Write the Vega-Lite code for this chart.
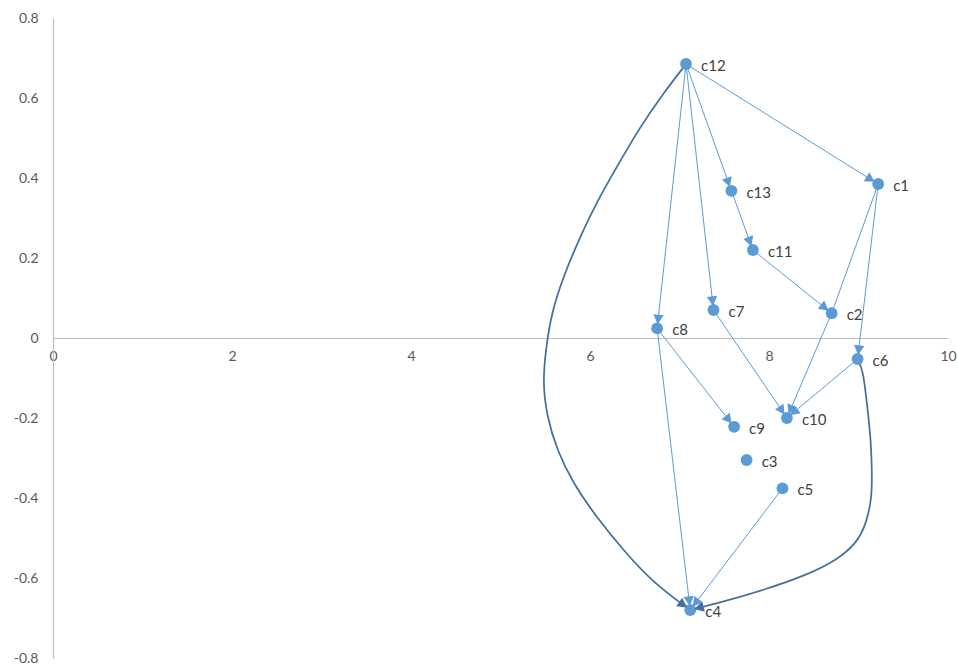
{
  "$schema": "https://vega.github.io/schema/vega-lite/v6.json",
  "width": 895,
  "height": 640,
  "autosize": "none",
  "padding": {"left": 53, "top": 18, "right": 10, "bottom": 9},
  "background": "white",
  "config": {"view": {"stroke": null}, "font": "Lato"},
  "datasets": {
    "nodes": [
      {"name": "c12", "x": 7.073, "y": 0.685},
      {"name": "c1", "x": 9.22, "y": 0.385},
      {"name": "c13", "x": 7.58, "y": 0.368},
      {"name": "c11", "x": 7.82, "y": 0.22},
      {"name": "c2", "x": 8.70, "y": 0.062},
      {"name": "c7", "x": 7.38, "y": 0.07},
      {"name": "c8", "x": 6.75, "y": 0.024},
      {"name": "c6", "x": 8.99, "y": -0.0525},
      {"name": "c10", "x": 8.20, "y": -0.20},
      {"name": "c9", "x": 7.61, "y": -0.222},
      {"name": "c3", "x": 7.75, "y": -0.305},
      {"name": "c5", "x": 8.15, "y": -0.376},
      {"name": "c4", "x": 7.12, "y": -0.68}
    ],
    "edges": [
      {"from": "c12", "to": "c1", "x": 7.073, "y": 0.685, "xe": 9.22, "ye": 0.385},
      {"from": "c12", "to": "c13", "x": 7.073, "y": 0.685, "xe": 7.58, "ye": 0.368},
      {"from": "c12", "to": "c7", "x": 7.073, "y": 0.685, "xe": 7.38, "ye": 0.07},
      {"from": "c12", "to": "c8", "x": 7.073, "y": 0.685, "xe": 6.75, "ye": 0.024},
      {"from": "c13", "to": "c11", "x": 7.58, "y": 0.368, "xe": 7.82, "ye": 0.22},
      {"from": "c11", "to": "c2", "x": 7.82, "y": 0.22, "xe": 8.70, "ye": 0.062},
      {"from": "c1", "to": "c2", "x": 9.22, "y": 0.385, "xe": 8.70, "ye": 0.062},
      {"from": "c1", "to": "c6", "x": 9.22, "y": 0.385, "xe": 8.99, "ye": -0.0525},
      {"from": "c2", "to": "c10", "x": 8.70, "y": 0.062, "xe": 8.20, "ye": -0.20},
      {"from": "c7", "to": "c10", "x": 7.38, "y": 0.07, "xe": 8.20, "ye": -0.20},
      {"from": "c6", "to": "c10", "x": 8.99, "y": -0.0525, "xe": 8.20, "ye": -0.20},
      {"from": "c8", "to": "c9", "x": 6.75, "y": 0.024, "xe": 7.61, "ye": -0.222},
      {"from": "c8", "to": "c4", "x": 6.75, "y": 0.024, "xe": 7.12, "ye": -0.68},
      {"from": "c5", "to": "c4", "x": 8.15, "y": -0.376, "xe": 7.12, "ye": -0.68}
    ],
    "heads": [
      {"from": "c12", "to": "c1", "kind": "light", "fx": 7.073, "fy": 0.685, "x": 9.22, "y": 0.385},
      {"from": "c12", "to": "c13", "kind": "light", "fx": 7.073, "fy": 0.685, "x": 7.58, "y": 0.368},
      {"from": "c12", "to": "c7", "kind": "light", "fx": 7.073, "fy": 0.685, "x": 7.38, "y": 0.07},
      {"from": "c12", "to": "c8", "kind": "light", "fx": 7.073, "fy": 0.685, "x": 6.75, "y": 0.024},
      {"from": "c13", "to": "c11", "kind": "light", "fx": 7.58, "fy": 0.368, "x": 7.82, "y": 0.22},
      {"from": "c11", "to": "c2", "kind": "light", "fx": 7.82, "fy": 0.22, "x": 8.70, "y": 0.062},
      {"from": "c1", "to": "c6", "kind": "light", "fx": 9.22, "fy": 0.385, "x": 8.99, "y": -0.0525},
      {"from": "c2", "to": "c10", "kind": "light", "fx": 8.70, "fy": 0.062, "x": 8.20, "y": -0.20},
      {"from": "c7", "to": "c10", "kind": "light", "fx": 7.38, "fy": 0.07, "x": 8.20, "y": -0.20},
      {"from": "c6", "to": "c10", "kind": "light", "fx": 8.99, "fy": -0.0525, "x": 8.20, "y": -0.20},
      {"from": "c8", "to": "c9", "kind": "light", "fx": 6.75, "fy": 0.024, "x": 7.61, "y": -0.222},
      {"from": "c8", "to": "c4", "kind": "light", "fx": 6.75, "fy": 0.024, "x": 7.12, "y": -0.68},
      {"from": "c5", "to": "c4", "kind": "light", "fx": 8.15, "fy": -0.376, "x": 7.12, "y": -0.68},
      {"from": "c12", "to": "c4", "kind": "dark", "fx": 6.71, "fy": -0.613, "x": 7.12, "y": -0.68},
      {"from": "c6", "to": "c4", "kind": "dark", "fx": 7.49, "fy": -0.659, "x": 7.12, "y": -0.68}
    ],
    "curves": [
      {"curve": "c12-c4", "step": 0, "x": 7.073, "y": 0.685},
      {"curve": "c12-c4", "step": 1, "x": 6.82, "y": 0.612},
      {"curve": "c12-c4", "step": 2, "x": 6.56, "y": 0.528},
      {"curve": "c12-c4", "step": 3, "x": 6.30, "y": 0.428},
      {"curve": "c12-c4", "step": 4, "x": 6.07, "y": 0.3375},
      {"curve": "c12-c4", "step": 5, "x": 5.89, "y": 0.253},
      {"curve": "c12-c4", "step": 6, "x": 5.70, "y": 0.153},
      {"curve": "c12-c4", "step": 7, "x": 5.57, "y": 0.062},
      {"curve": "c12-c4", "step": 8, "x": 5.51, "y": -0.022},
      {"curve": "c12-c4", "step": 9, "x": 5.47, "y": -0.1125},
      {"curve": "c12-c4", "step": 10, "x": 5.52, "y": -0.197},
      {"curve": "c12-c4", "step": 11, "x": 5.63, "y": -0.28},
      {"curve": "c12-c4", "step": 12, "x": 5.81, "y": -0.363},
      {"curve": "c12-c4", "step": 13, "x": 6.07, "y": -0.447},
      {"curve": "c12-c4", "step": 14, "x": 6.37, "y": -0.53},
      {"curve": "c12-c4", "step": 15, "x": 6.71, "y": -0.613},
      {"curve": "c12-c4", "step": 16, "x": 7.12, "y": -0.68},
      {"curve": "c6-c4", "step": 0, "x": 8.99, "y": -0.0525},
      {"curve": "c6-c4", "step": 1, "x": 9.05, "y": -0.08},
      {"curve": "c6-c4", "step": 2, "x": 9.09, "y": -0.155},
      {"curve": "c6-c4", "step": 3, "x": 9.14, "y": -0.255},
      {"curve": "c6-c4", "step": 4, "x": 9.15, "y": -0.338},
      {"curve": "c6-c4", "step": 5, "x": 9.15, "y": -0.397},
      {"curve": "c6-c4", "step": 6, "x": 9.09, "y": -0.463},
      {"curve": "c6-c4", "step": 7, "x": 8.98, "y": -0.513},
      {"curve": "c6-c4", "step": 8, "x": 8.76, "y": -0.555},
      {"curve": "c6-c4", "step": 9, "x": 8.42, "y": -0.593},
      {"curve": "c6-c4", "step": 10, "x": 7.94, "y": -0.63},
      {"curve": "c6-c4", "step": 11, "x": 7.49, "y": -0.659},
      {"curve": "c6-c4", "step": 12, "x": 7.12, "y": -0.68}
    ]
  },
  "encoding": {
    "x": {
      "field": "x", "type": "quantitative",
      "scale": {"domain": [0, 10], "nice": false, "zero": false},
      "axis": {
        "title": null, "orient": "bottom", "offset": -320,
        "values": [0, 2, 4, 6, 8, 10],
        "grid": false, "ticks": false,
        "domainColor": "#bfbfbf", "domainWidth": 1.2,
        "labelFont": "Lato", "labelFontSize": 14, "labelColor": "#595959",
        "labelPadding": 11, "labelFlush": false, "labelOverlap": false, "labelBound": false
      }
    },
    "y": {
      "field": "y", "type": "quantitative",
      "scale": {"domain": [-0.8, 0.8], "nice": false, "zero": false},
      "axis": {
        "title": null, "orient": "left",
        "values": [-0.8, -0.6, -0.4, -0.2, 0, 0.2, 0.4, 0.6, 0.8],
        "labelExpr": "datum.value == 0 ? '0' : toString(round(datum.value * 10) / 10)",
        "grid": false, "ticks": false,
        "domainColor": "#bfbfbf", "domainWidth": 1.2,
        "labelFont": "Lato", "labelFontSize": 14, "labelColor": "#595959",
        "labelPadding": 15, "labelFlush": false, "labelOverlap": false, "labelBound": false
      }
    }
  },
  "layer": [
    {
      "data": {"name": "edges"},
      "mark": {"type": "rule", "color": "#5b9bd5", "strokeWidth": 1},
      "encoding": {
        "x2": {"field": "xe"},
        "y2": {"field": "ye"}
      }
    },
    {
      "data": {"name": "curves"},
      "mark": {"type": "line", "interpolate": "basis", "color": "#41719c", "strokeWidth": 1.75},
      "encoding": {
        "detail": {"field": "curve"},
        "order": {"field": "step", "type": "quantitative"}
      }
    },
    {
      "data": {"name": "nodes"},
      "mark": {"type": "circle", "size": 140, "color": "#5b9bd5", "opacity": 1},
      "encoding": {}
    },
    {
      "data": {"name": "heads"},
      "transform": [
        {"calculate": "(atan2((datum.x - datum.fx) * 89.5, (datum.y - datum.fy) * 400) * 180 / PI + 360) % 360", "as": "ang"}
      ],
      "mark": {"type": "point", "shape": "M0,0.3L0.38,1L-0.38,1Z", "filled": true, "size": 750, "opacity": 1, "strokeWidth": 0},
      "encoding": {
        "angle": {"field": "ang", "type": "quantitative", "scale": null},
        "color": {"field": "kind", "type": "nominal", "scale": {"domain": ["light", "dark"], "range": ["#5b9bd5", "#41719c"]}, "legend": null}
      }
    },
    {
      "data": {"name": "nodes"},
      "mark": {"type": "text", "align": "left", "baseline": "middle", "dx": 15, "dy": 2, "fontSize": 15, "font": "Lato", "color": "#404040"},
      "encoding": {
        "text": {"field": "name"}
      }
    }
  ]
}
